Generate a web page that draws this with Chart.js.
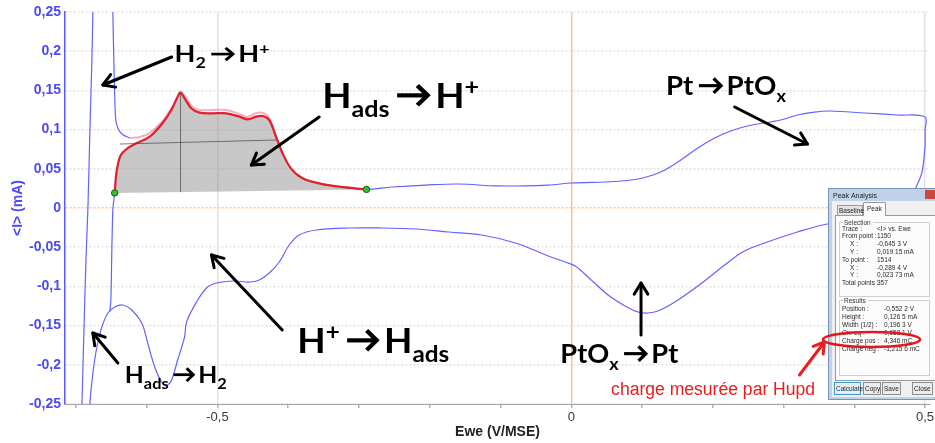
<!DOCTYPE html>
<html>
<head>
<meta charset="utf-8">
<script src="https://cdn.jsdelivr.net/npm/chart.js@4.4.1/dist/chart.umd.min.js"></script>
<style>
  html, body { margin: 0; padding: 0; background: #fff; }
  #wrap { width: 935px; height: 443px; }
</style>
</head>
<body>
<div id="wrap"><canvas id="cv" width="935" height="443"></canvas></div>
<script>
// potentiel (V/MSE) et courant (mA) lus sur la voltamétrie
// balayage anodique, zone Hupd sélectionnée (du point 1150 au point 1514)
const hupdE = [-0.6453, -0.6444, -0.6437, -0.6415, -0.6366, -0.6272, -0.6145, -0.5958, -0.5775, -0.5652,
  -0.5573, -0.5525, -0.5465, -0.5370, -0.5254, -0.5066, -0.4877, -0.4690, -0.4573, -0.4455,
  -0.4362, -0.4268, -0.4173, -0.4080, -0.3962, -0.3799, -0.3563, -0.3282, -0.2894];
const hupdI = [0.0192, 0.0293, 0.0383, 0.0523, 0.0676, 0.0761, 0.0825, 0.0909, 0.1084, 0.1250,
  0.1399, 0.1471, 0.1399, 0.1272, 0.1216, 0.1208, 0.1208, 0.1165, 0.1131, 0.1165,
  0.1173, 0.1122, 0.0909, 0.0698, 0.0506, 0.0379, 0.0315, 0.0272, 0.0237];

// suite du balayage anodique : oxydation du Pt puis retour
const oxE = [-0.2535, -0.2056, -0.1592, -0.1028, -0.0324, 0.0, 0.0620, 0.0944, 0.1155, 0.1324,
  0.1549, 0.1789, 0.2028, 0.2254, 0.2493, 0.2958, 0.3197, 0.3437, 0.3662, 0.4141,
  0.4606, 0.5000, 0.5000, 0.5000, 0.4958, 0.4887, 0.4817, 0.4718, 0.4535, 0.4183, 0.3901, 0.3620];
const oxI = [0.0268, 0.0293, 0.0306, 0.0281, 0.0293, 0.0319, 0.0338, 0.0370, 0.0421, 0.0485,
  0.0612, 0.0765, 0.0893, 0.0982, 0.1046, 0.1122, 0.1186, 0.1224, 0.1237, 0.1212,
  0.1186, 0.1161, 0.0995, 0.0804, 0.0459, 0.0293, 0.0140, 0.0013, -0.0089, -0.0166, -0.0191, -0.0204];

// balayage cathodique : réduction PtOx, adsorption H, dégagement H2
const redE = [0.3197, 0.2732, 0.2423, 0.2169, 0.1789, 0.1465, 0.1225, 0.1085, 0.0944, 0.0761,
  0.0521, 0.0282, 0.0056, -0.0085, -0.0324, -0.0789, -0.1268, -0.1732, -0.2197, -0.2676,
  -0.3141, -0.3606, -0.3845, -0.3986, -0.4127, -0.4268, -0.4408, -0.4549, -0.4789, -0.5014,
  -0.5155, -0.5296, -0.5437, -0.5465, -0.5563, -0.5648, -0.5718, -0.5789, -0.5887, -0.5986,
  -0.6070, -0.6211, -0.6338, -0.6451, -0.6549, -0.6634, -0.6704, -0.6761, -0.6803, -0.6817, -0.6845];
const redI = [-0.0306, -0.0446, -0.0561, -0.0727, -0.0995, -0.1199, -0.1314, -0.1339, -0.1327, -0.1250,
  -0.1110, -0.0918, -0.0740, -0.0689, -0.0612, -0.0446, -0.0344, -0.0306, -0.0268, -0.0255,
  -0.0255, -0.0281, -0.0344, -0.0472, -0.0689, -0.0829, -0.0918, -0.0944, -0.0931, -0.0957,
  -0.1020, -0.1199, -0.1454, -0.1645, -0.1939, -0.2194, -0.2258, -0.2219, -0.2028, -0.1722,
  -0.1467, -0.1301, -0.1237, -0.1263, -0.1339, -0.1518, -0.1773, -0.2105, -0.2487, -0.2832, -0.32];

// oxydation de H2 (sort du cadre en haut)
const h2E = [-0.6930, -0.6915, -0.6887, -0.6859, -0.6831, -0.6803, -0.6775, -0.6761, -0.6746,
  -0.6493, -0.6479, -0.6465, -0.6451, -0.6437, -0.6408, -0.6352, -0.6239];
const h2I = [-0.32, -0.2500, -0.1556, -0.0663, 0.0, 0.0995, 0.1888, 0.25, 0.32,
  0.32, 0.25, 0.1888, 0.1378, 0.1122, 0.1020, 0.0944, 0.0893];

// autre cycle (trait rose au-dessus du rouge)
const cycle2E = [-0.6239, -0.6099, -0.5958, -0.5775, -0.5648, -0.5577, -0.5521, -0.5451, -0.5366, -0.5254,
  -0.5070, -0.4873, -0.4690, -0.4577, -0.4451, -0.4352, -0.4268, -0.4169, -0.4085];
const cycle2I = [0.0893, 0.0906, 0.0957, 0.1110, 0.1276, 0.1390, 0.1480, 0.1416, 0.1301, 0.1250,
  0.1250, 0.1250, 0.1199, 0.1161, 0.1212, 0.1212, 0.1148, 0.0906, 0.0702];

// remontée vers le point de départ de la sélection
const linkE = [-0.6521, -0.6507, -0.6493, -0.6479, -0.6465, -0.6453];
const linkI = [-0.1320, -0.1173, -0.0536, -0.0026, 0.0100, 0.0192];

// résultats de l'analyse de pic
const peakE = -0.5522;
const peakH = 0.1265;
const halfE = [-0.638, -0.417];
const halfI = [0.0816, 0.0867];

const xTicks = [-0.7, -0.6, -0.5, -0.4, -0.3, -0.2, -0.1, 0, 0.1, 0.2, 0.3, 0.4, 0.5];
const xTickLabels = ['', '', '-0,5', '', '', '', '', '0', '', '', '', '', '0,5'];
const yTicks = [-0.25, -0.2, -0.15, -0.1, -0.05, 0, 0.05, 0.1, 0.15, 0.2, 0.25];
const yTickLabels = ['-0,25', '-0,2', '-0,15', '-0,1', '-0,05', '0', '0,05', '0,1', '0,15', '0,2', '0,25'];

const BLUE = 'rgb(98,98,255)';
const AXIS_BLUE = '#4a4af6';
const ORANGE = '#ffc28a';
const GRID = '#e2e2e2';

function pts(xs, ys) {
  return xs.map((v, k) => ({ x: v, y: ys[k] }));
}

const loop = pts(hupdE, hupdI).concat(pts(oxE, oxI), pts(redE, redI), pts(h2E, h2I));
const last = hupdE.length - 1;
const greenE = [hupdE[0], hupdE[last]];
const greenI = [hupdI[0], hupdI[last]];
const basePeak = greenI[0] + (greenI[1] - greenI[0]) * (peakE - greenE[0]) / (greenE[1] - greenE[0]);

// textes et flèches (ancrés en coordonnées des axes)
const notes = [
  { e: -0.5606, i: 0.1862, size: 22, w: 95, runs: [['H'], ['2', 'sub'], ['→'], ['H'], ['+', 'sup']] },
  { e: -0.3521, i: 0.1276, size: 35, w: 157, runs: [['H'], ['ads', 'sub'], ['→'], ['H'], ['+', 'sup']] },
  { e: 0.1338, i: 0.1441, size: 26, w: 120, runs: [['Pt'], ['→'], ['PtO'], ['x', 'sub']] },
  { e: -0.3873, i: -0.1849, size: 35, w: 152, runs: [['H'], ['+', 'sup'], ['→'], ['H'], ['ads', 'sub']] },
  { e: -0.6310, i: -0.2232, size: 23, w: 102, runs: [['H'], ['ads', 'sub'], ['→'], ['H'], ['2', 'sub']] },
  { e: -0.0155, i: -0.1977, size: 26, w: 118, runs: [['PtO'], ['x', 'sub'], ['→'], ['Pt']] }
];
const pointers = [
  { from: [-0.5648, 0.1926], to: [-0.6620, 0.1569] },
  { from: [-0.3563, 0.1161], to: [-0.4521, 0.0548] },
  { from: [0.2310, 0.1288], to: [0.3338, 0.0816] },
  { from: [-0.4085, -0.1556], to: [-0.5085, -0.0599] },
  { from: [-0.6408, -0.1977], to: [-0.6761, -0.1594] },
  { from: [0.0986, -0.1620], to: [0.0986, -0.0957] }
];

function runFont(run, size) {
  const s = run[1] ? size * 0.66 : size;
  return 'bold ' + s + 'px Lato, "Open Sans", sans-serif';
}
function runWidth(ctx, run, size) {
  if (run[0] === '→') return size * 1.2;
  ctx.font = runFont(run, size);
  return ctx.measureText(run[0]).width;
}
function drawRuns(ctx, x, y, runs, size, targetW) {
  const total = runs.reduce((s, r) => s + runWidth(ctx, r, size), 0);
  ctx.save();
  ctx.translate(x, y);
  ctx.scale(targetW / total, 1);
  ctx.fillStyle = '#000';
  ctx.strokeStyle = '#000';
  let cx = 0;
  runs.forEach(r => {
    const w = runWidth(ctx, r, size);
    if (r[0] === '→') {
      const m = -size * 0.36;
      const x0 = cx + size * 0.2;
      const x1 = cx + w - size * 0.2;
      ctx.lineWidth = size * 0.12;
      ctx.lineCap = 'butt';
      ctx.lineJoin = 'miter';
      ctx.beginPath();
      ctx.moveTo(x0, m);
      ctx.lineTo(x1 - size * 0.04, m);
      ctx.stroke();
      ctx.beginPath();
      ctx.moveTo(x1 - size * 0.27, m - size * 0.28);
      ctx.lineTo(x1, m);
      ctx.lineTo(x1 - size * 0.27, m + size * 0.28);
      ctx.stroke();
    } else {
      ctx.font = runFont(r, size);
      const dy = r[1] === 'sub' ? size * 0.27 : r[1] === 'sup' ? -size * 0.36 : 0;
      ctx.fillText(r[0], cx, dy);
    }
    cx += w;
  });
  ctx.restore();
}
function pointer(ctx, x0, y0, x1, y1, color, lw, head) {
  const a = Math.atan2(y1 - y0, x1 - x0);
  ctx.save();
  ctx.strokeStyle = color;
  ctx.lineWidth = lw;
  ctx.lineCap = 'round';
  ctx.lineJoin = 'round';
  ctx.beginPath();
  ctx.moveTo(x0, y0);
  ctx.lineTo(x1, y1);
  ctx.stroke();
  ctx.beginPath();
  ctx.moveTo(x1 - head * Math.cos(a - 0.55), y1 - head * Math.sin(a - 0.55));
  ctx.lineTo(x1, y1);
  ctx.lineTo(x1 - head * Math.cos(a + 0.55), y1 - head * Math.sin(a + 0.55));
  ctx.stroke();
  ctx.restore();
}

// fenêtre "Peak Analysis" collée sur le graphe
function drawDialog(ctx, ox, oy) {
  ctx.save();
  ctx.fillStyle = '#bfd2e9';
  ctx.fillRect(ox, oy, 112, 212);
  ctx.strokeStyle = '#7a93b5';
  ctx.lineWidth = 1;
  ctx.strokeRect(ox + 0.5, oy + 0.5, 112, 211);
  ctx.font = '7px "Liberation Sans", Arial';
  ctx.fillStyle = '#222';
  ctx.fillText('Peak Analysis', ox + 5, oy + 10);
  ctx.fillStyle = '#c9493b';
  ctx.fillRect(ox + 97, oy + 2, 14, 9);

  ctx.fillStyle = '#f0f0f0';
  ctx.fillRect(ox + 4, oy + 13, 108, 196);
  ctx.fillStyle = '#fcfcfc';
  ctx.fillRect(ox + 7, oy + 27, 105, 166);
  ctx.strokeStyle = '#9a9a9a';
  ctx.strokeRect(ox + 7.5, oy + 27.5, 105, 165);

  // onglets
  ctx.fillStyle = '#e4e4e4';
  ctx.fillRect(ox + 9, oy + 17, 25, 10);
  ctx.strokeRect(ox + 9.5, oy + 17.5, 25, 10);
  ctx.fillStyle = '#fcfcfc';
  ctx.fillRect(ox + 35, oy + 14, 22, 14);
  ctx.strokeStyle = '#9a9a9a';
  ctx.beginPath();
  ctx.moveTo(ox + 35.5, oy + 28);
  ctx.lineTo(ox + 35.5, oy + 14.5);
  ctx.lineTo(ox + 57.5, oy + 14.5);
  ctx.lineTo(ox + 57.5, oy + 28);
  ctx.stroke();
  ctx.fillStyle = '#222';
  ctx.font = '6.5px "Liberation Sans", Arial';
  ctx.fillText('Baseline', ox + 11, oy + 25);
  ctx.fillText('Peak', ox + 39, oy + 23);

  // cadres de groupes
  function group(label, gx, gy, gw, gh) {
    ctx.strokeStyle = '#d0d0d0';
    ctx.strokeRect(gx + 0.5, gy + 0.5, gw, gh);
    ctx.font = '6.5px "Liberation Sans", Arial';
    const tw = ctx.measureText(label).width;
    ctx.fillStyle = '#fcfcfc';
    ctx.fillRect(gx + 4, gy - 3, tw + 3, 7);
    ctx.fillStyle = '#333';
    ctx.fillText(label, gx + 5, gy + 3);
  }
  group('Selection', ox + 11, oy + 34, 90, 74);
  group('Results', ox + 11, oy + 112, 90, 75);

  const selRows = [
    ['Trace :', '<I> vs. Ewe', 0], ['From point :', '1150', 0], ['X :', '-0,645 3 V', 1], ['Y :', '0,019 15 mA', 1],
    ['To point :', '1514', 0], ['X :', '-0,289 4 V', 1], ['Y :', '0,023 73 mA', 1], ['Total points :', '357', 0]
  ];
  const resRows = [
    ['Position :', '-0,552 2 V'], ['Height :', '0,126 5 mA'], ['Width (1/2) :', '0,196 3 V'],
    ['Ox. eq :', '0,658 1 V'], ['Charge pos :', '4,346 mC'], ['Charge neg :', '-1,215 6 mC']
  ];
  ctx.font = '6.5px "Liberation Sans", Arial';
  ctx.fillStyle = '#2a2a2a';
  selRows.forEach((r, k) => {
    const ry = oy + 42.5 + k * 7.8;
    ctx.fillText(r[0], ox + (r[2] ? 22 : 14), ry);
    ctx.fillText(r[1], ox + 49, ry);
  });
  resRows.forEach((r, k) => {
    const ry = oy + 122.5 + k * 8;
    ctx.fillText(r[0], ox + 14, ry);
    ctx.fillText(r[1], ox + 56, ry);
  });

  // boutons
  const buttons = [['Calculate', 6, 26], ['Copy', 35, 17], ['Save', 54, 18], ['Close', 84, 20]];
  buttons.forEach((b, k) => {
    ctx.fillStyle = k === 0 ? '#e3f0fb' : '#ececec';
    ctx.fillRect(ox + b[1], oy + 194, b[2], 12);
    ctx.strokeStyle = k === 0 ? '#3c95d6' : '#8e8e8e';
    ctx.strokeRect(ox + b[1] + 0.5, oy + 194.5, b[2], 12);
    ctx.fillStyle = '#222';
    ctx.fillText(b[0], ox + b[1] + 2, oy + 202.5);
  });
  ctx.restore();
}

const overlay = {
  id: 'overlay',
  afterDatasetsDraw(chart) {
    const { ctx, scales: { x, y } } = chart;
    pointers.forEach(p => pointer(ctx,
      x.getPixelForValue(p.from[0]), y.getPixelForValue(p.from[1]),
      x.getPixelForValue(p.to[0]), y.getPixelForValue(p.to[1]), '#000', 3, 13));
    notes.forEach(n => drawRuns(ctx, x.getPixelForValue(n.e), y.getPixelForValue(n.i), n.runs, n.size, n.w));
  },
  afterDraw(chart) {
    const { ctx, chartArea, scales: { x, y } } = chart;
    const ox = chartArea.right - 102;
    const oy = chartArea.top + 176;
    drawDialog(ctx, ox, oy);
    // ellipse rouge autour de "Charge pos"
    ctx.save();
    ctx.strokeStyle = '#e8161c';
    ctx.lineWidth = 2.5;
    ctx.beginPath();
    ctx.ellipse(ox + 43.5, oy + 151.5, 48.5, 7.5, 0, 0, Math.PI * 2);
    ctx.stroke();
    ctx.restore();
    pointer(ctx, x.getPixelForValue(0.3225), y.getPixelForValue(-0.2130),
      x.getPixelForValue(0.3577), y.getPixelForValue(-0.1709), '#ee1c1c', 3, 12);
    ctx.save();
    const txt = 'charge mesurée par Hupd';
    ctx.font = '18px "Liberation Sans", Arial';
    const tx = x.getPixelForValue(0.0563);
    const ty = y.getPixelForValue(-0.2385);
    ctx.translate(tx, ty);
    ctx.scale(204 / ctx.measureText(txt).width, 1);
    ctx.fillStyle = '#ec1c1c';
    ctx.fillText(txt, 0, 0);
    ctx.restore();
  }
};

const lineDs = { showLine: true, pointRadius: 0, fill: false, tension: 0.35 };

new Chart(document.getElementById('cv'), {
  type: 'scatter',
  data: {
    datasets: [
      { data: pts(greenE, greenI), showLine: false, pointRadius: 3.2, pointBackgroundColor: '#2fc02f',
        pointBorderColor: '#175a17', pointBorderWidth: 1, order: 0 },
      Object.assign({}, lineDs, { data: [{ x: peakE, y: basePeak }, { x: peakE, y: basePeak + peakH }],
        borderColor: 'rgba(70,70,70,0.7)', borderWidth: 1, tension: 0, order: 1 }),
      Object.assign({}, lineDs, { data: pts(halfE, halfI), borderColor: 'rgba(70,70,70,0.7)', borderWidth: 1, tension: 0, order: 1 }),
      Object.assign({}, lineDs, { data: pts(hupdE, hupdI), borderColor: '#e3202c', borderWidth: 2.2, order: 2 }),
      Object.assign({}, lineDs, { data: pts(cycle2E, cycle2I), borderColor: 'rgba(236,110,140,0.55)', borderWidth: 2, order: 3 }),
      Object.assign({}, lineDs, { data: loop, borderColor: BLUE, borderWidth: 1.2, order: 4 }),
      Object.assign({}, lineDs, { data: pts(linkE, linkI), borderColor: BLUE, borderWidth: 1.2, order: 4 }),
      Object.assign({}, lineDs, { data: pts(hupdE, hupdI), fill: 'shape', backgroundColor: 'rgba(140,140,140,0.48)',
        borderWidth: 0, borderColor: 'rgba(0,0,0,0)', order: 6 })
    ]
  },
  options: {
    responsive: false,
    animation: false,
    devicePixelRatio: 1,
    layout: { padding: { top: 12, right: 2, bottom: 0, left: 0 } },
    plugins: { legend: { display: false }, tooltip: { enabled: false } },
    scales: {
      x: {
        type: 'linear',
        min: -0.7155,
        max: 0.507,
        afterBuildTicks: s => { s.ticks = xTicks.map(v => ({ value: v })); },
        afterFit: s => { s.height = 39; s.paddingLeft = 0; s.paddingRight = 0; },
        ticks: {
          autoSkip: false, maxRotation: 0, padding: 2, color: '#3a3a3a',
          font: { family: '"Liberation Sans", Arial', size: 13 },
          callback: (v, i) => xTickLabels[i]
        },
        grid: {
          color: c => {
            const v = c.tick ? c.tick.value : 1;
            if (Math.abs(v) < 1e-9) return ORANGE;
            if (Math.abs(Math.abs(v) - 0.5) < 1e-9) return GRID;
            return 'rgba(0,0,0,0)';
          },
          lineWidth: 1.5,
          tickColor: '#b0b0b0',
          tickLength: 4
        },
        border: { color: '#a5a5a5', width: 1 },
        title: {
          display: true, text: 'Ewe (V/MSE)', color: '#222',
          font: { family: '"Liberation Sans", Arial', size: 14, weight: 'bold' },
          padding: { top: 0, bottom: 2 }
        }
      },
      y: {
        type: 'linear',
        min: -0.25,
        max: 0.25,
        afterBuildTicks: s => { s.ticks = yTicks.map(v => ({ value: v })); },
        afterFit: s => { s.width = 65; s.paddingTop = 0; s.paddingBottom = 0; },
        ticks: {
          padding: 4, color: AXIS_BLUE,
          font: { family: '"Liberation Sans", Arial', size: 14, weight: 'bold' },
          callback: (v, i) => yTickLabels[i]
        },
        grid: {
          color: c => (c.tick && Math.abs(c.tick.value) < 1e-9 ? ORANGE : GRID),
          lineWidth: 1.5,
          drawTicks: false
        },
        border: { color: '#5a5aff', width: 1.5, dash: [2, 2] },
        title: {
          display: true, text: '<I> (mA)', color: AXIS_BLUE,
          font: { family: '"Liberation Sans", Arial', size: 14, weight: 'bold' },
          padding: { top: 10, bottom: 0 }
        }
      }
    }
  },
  plugins: [overlay]
});
</script>
</body>
</html>
